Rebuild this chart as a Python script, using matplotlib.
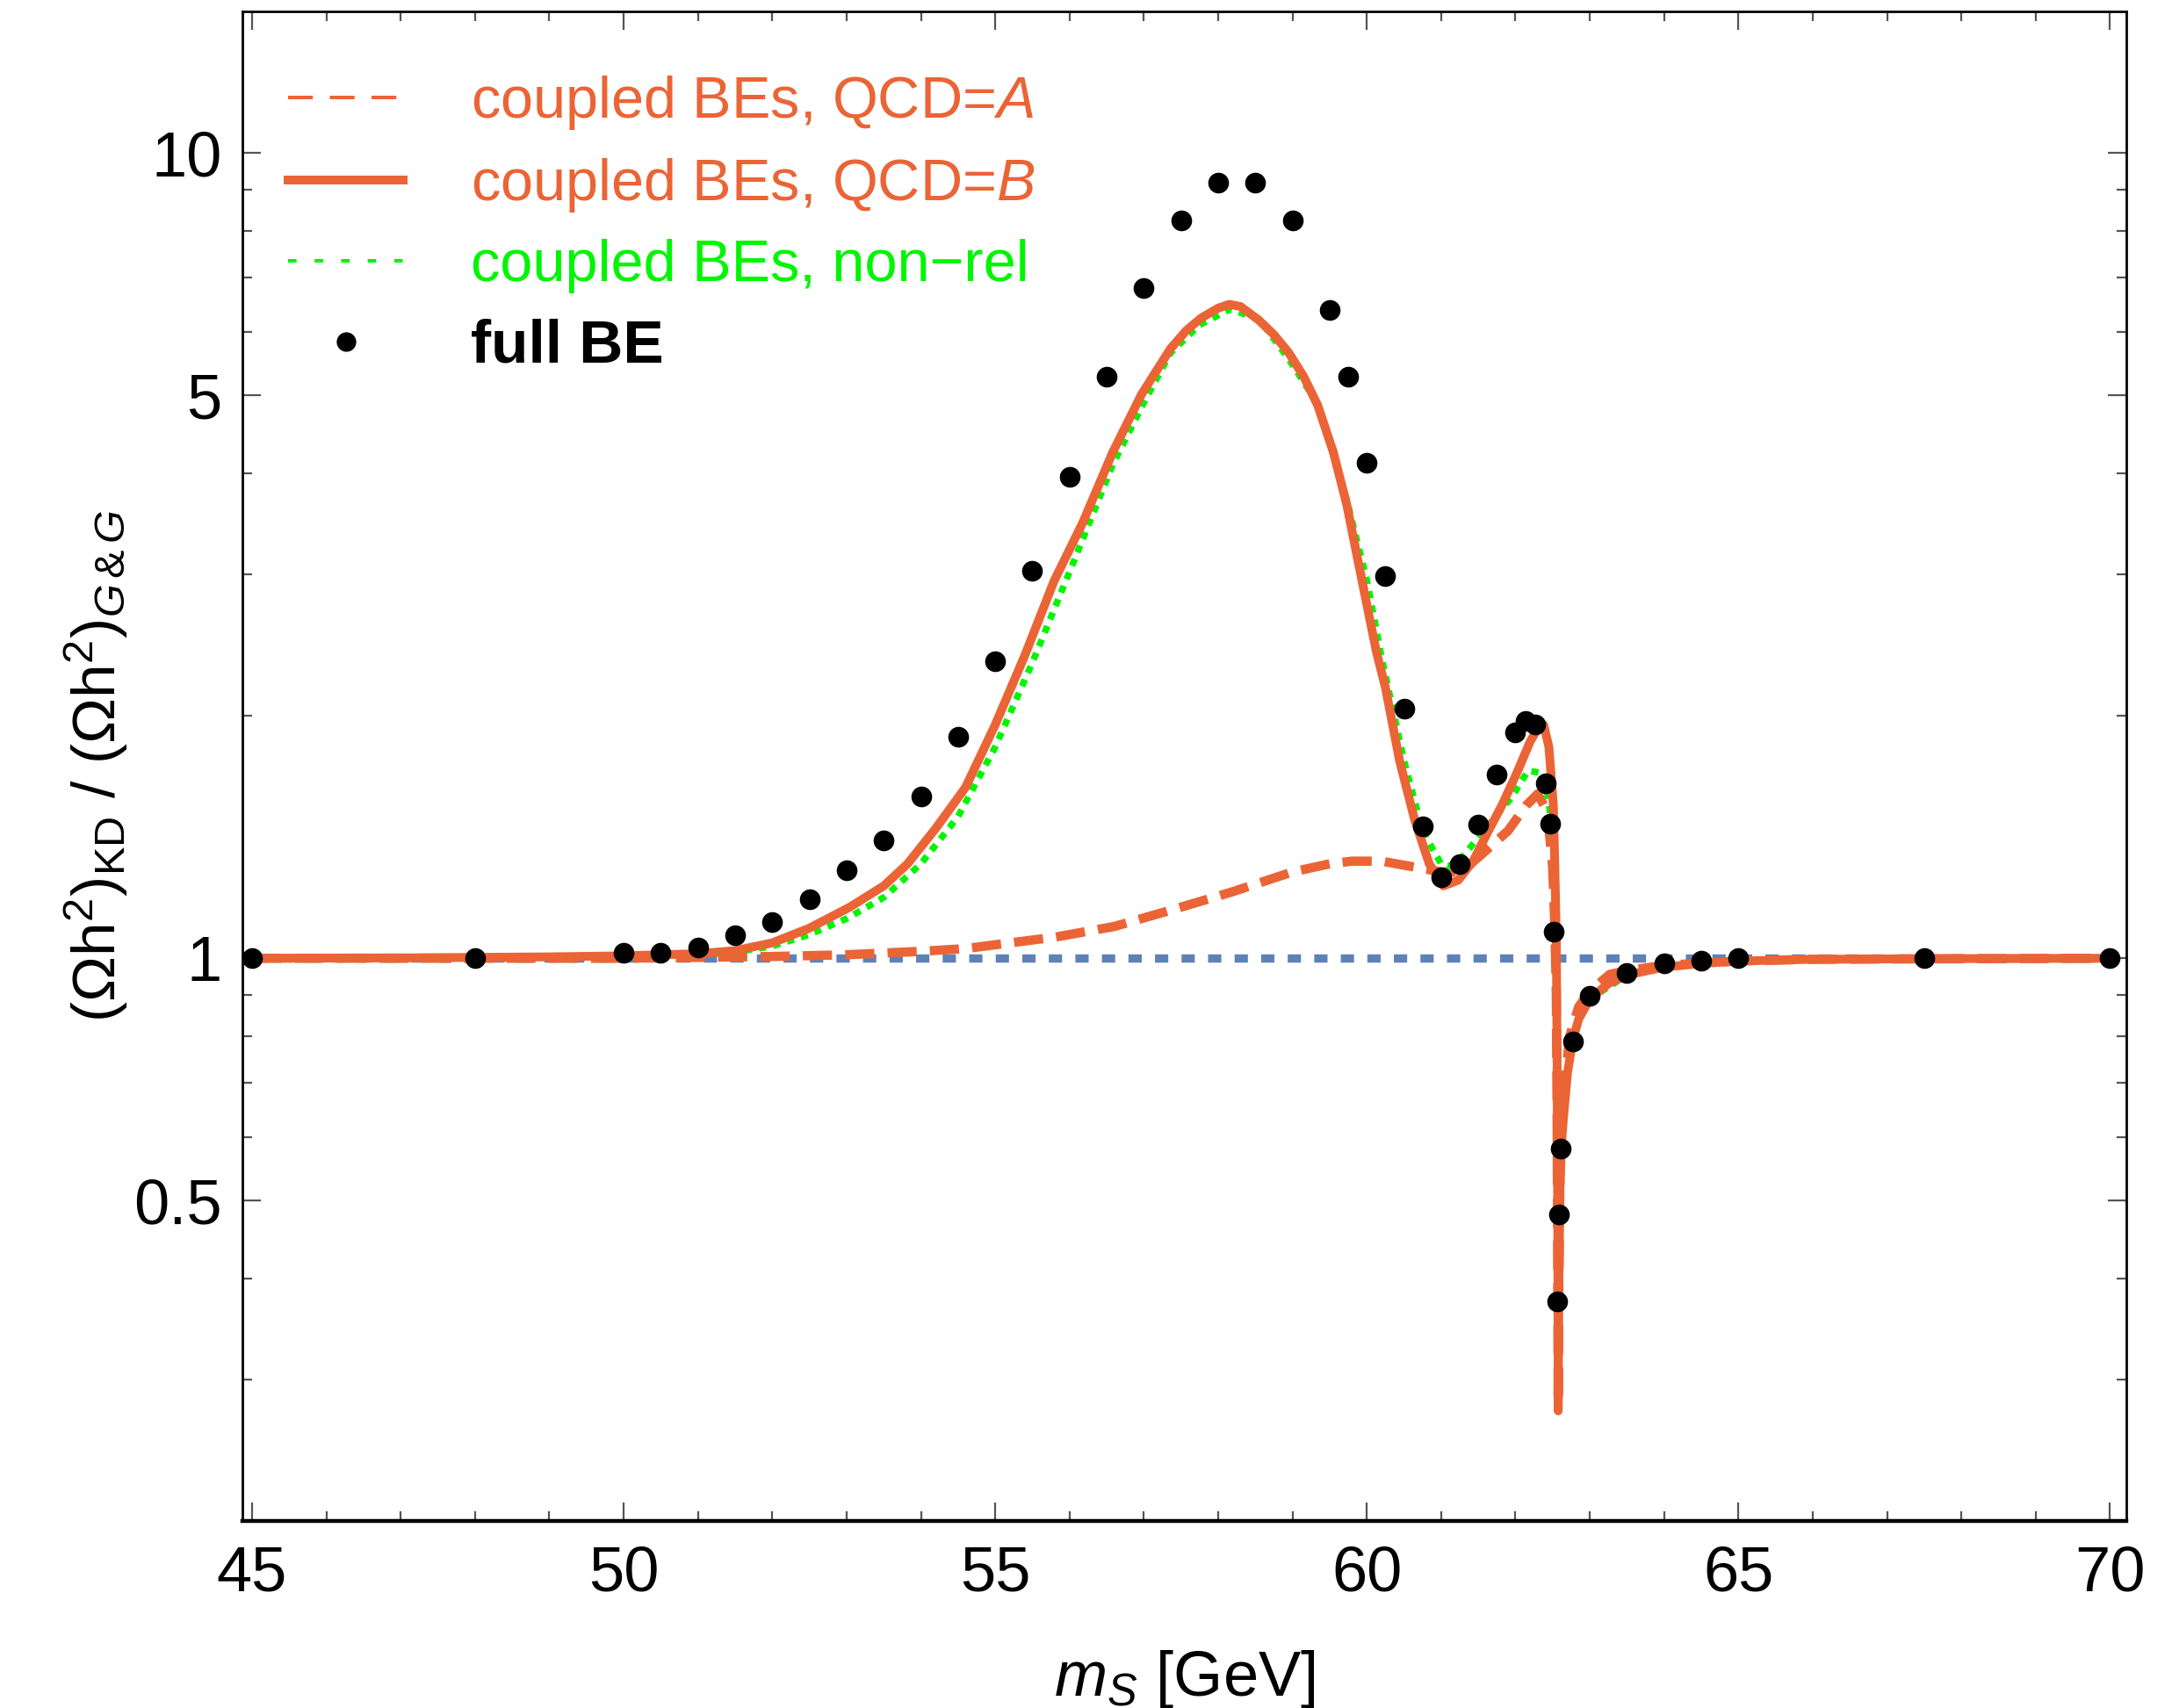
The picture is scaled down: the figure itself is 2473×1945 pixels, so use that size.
import matplotlib
matplotlib.use("Agg")
import matplotlib.pyplot as plt
from matplotlib.lines import Line2D
from matplotlib.ticker import FixedLocator, FuncFormatter, NullFormatter

plt.rcParams['font.family'] = ['Liberation Sans', 'DejaVu Sans']
plt.rcParams['mathtext.fontset'] = 'custom'
plt.rcParams['mathtext.rm'] = 'Liberation Sans'
plt.rcParams['mathtext.it'] = 'Liberation Sans:italic'
plt.rcParams['mathtext.bf'] = 'Liberation Sans:bold'

# ---------------- data ----------------
# coupled BEs, QCD=B (solid)
xB = [45.0, 47.0, 49.0, 50.0, 51.0, 51.5, 52.0, 52.5, 53.04, 53.5, 53.82, 54.2, 54.6, 55.0,
      55.4, 55.79, 56.18, 56.58, 56.97, 57.36, 57.57, 57.77, 58.0, 58.15, 58.3, 58.55, 58.75,
      58.95, 59.15, 59.34, 59.55, 59.73, 59.93, 60.13, 60.25, 60.44, 60.64, 60.84, 61.03,
      61.23, 61.43, 61.62, 61.82, 62.02, 62.2, 62.3, 62.38, 62.45, 62.51, 62.53, 62.55,
      62.56, 62.57, 62.575, 62.585, 62.6, 62.62, 62.65, 62.7, 62.77, 62.85, 63.0, 63.25,
      63.5, 64.0, 64.5, 65.0, 66.0, 68.0, 70.0]
yB = [1.000, 1.001, 1.004, 1.007, 1.013, 1.022, 1.045, 1.09, 1.157, 1.23, 1.31, 1.45, 1.63, 1.95,
      2.38, 2.94, 3.48, 4.25, 5.02, 5.72, 6.02, 6.24, 6.42, 6.49, 6.45, 6.20, 5.95,
      5.65, 5.28, 4.86, 4.25, 3.66, 2.96, 2.40, 2.17, 1.76, 1.49, 1.31, 1.23,
      1.25, 1.32, 1.43, 1.55, 1.70, 1.86, 1.93, 1.95, 1.83, 1.55, 1.30, 1.05,
      0.75, 0.45, 0.274, 0.40, 0.52, 0.59, 0.64, 0.72, 0.79, 0.84, 0.89, 0.93,
      0.953, 0.975, 0.985, 0.992, 0.997, 0.999, 1.000]

# coupled BEs, QCD=A (dashed)
xA = [45.0, 50.0, 52.0, 53.0, 54.0, 54.6, 55.2, 55.8, 56.6, 57.4, 58.2, 59.0, 59.5, 59.8,
      60.2, 60.6, 61.0, 61.2, 61.4, 61.6, 61.9, 62.15, 62.3, 62.38, 62.45, 62.5, 62.53,
      62.55, 62.56, 62.57, 62.575, 62.585, 62.6, 62.62, 62.66, 62.73, 62.85, 63.0, 63.27,
      63.5, 64.0, 65.0, 66.0, 70.0]
yA = [1.0, 1.0, 1.005, 1.01, 1.02, 1.028, 1.045, 1.062, 1.095, 1.15, 1.21, 1.28, 1.31, 1.32,
      1.32, 1.30, 1.28, 1.28, 1.31, 1.36, 1.44, 1.55, 1.60, 1.55, 1.45, 1.30, 1.10,
      0.90, 0.65, 0.40, 0.28, 0.40, 0.55, 0.63, 0.69, 0.80, 0.87, 0.91, 0.955,
      0.965, 0.98, 0.992, 0.997, 1.0]

# coupled BEs, non-rel (green dotted)
xN = [45.0, 50.0, 51.0, 51.5, 52.0, 52.5, 53.0, 53.5, 54.0, 54.5, 55.0, 55.5, 56.0, 56.58,
      57.0, 57.36, 57.75, 58.16, 58.55, 58.95, 59.34, 59.73, 60.0, 60.2, 60.5, 60.75, 61.0,
      61.1, 61.27, 61.6, 61.94, 62.17, 62.33, 62.42, 62.5, 62.53, 62.55, 62.56, 62.57,
      62.575, 62.585, 62.6, 62.62, 62.65, 62.7, 62.77, 62.85, 63.0, 63.5, 64.0, 65.0,
      66.0, 70.0]
yN = [1.0, 1.005, 1.01, 1.018, 1.035, 1.07, 1.12, 1.19, 1.31, 1.50, 1.83, 2.33, 3.02, 4.10,
      4.90, 5.65, 6.12, 6.40, 6.22, 5.55, 4.88, 3.71, 2.95, 2.36, 1.76, 1.44, 1.31,
      1.30, 1.33, 1.45, 1.58, 1.71, 1.70, 1.62, 1.45, 1.20, 1.00, 0.70, 0.45,
      0.30, 0.40, 0.52, 0.59, 0.64, 0.72, 0.79, 0.84, 0.89, 0.953, 0.975, 0.992,
      0.997, 1.0]

# full BE (points)
xF = [45.0, 48.0, 50.0, 50.5, 51.0, 51.5, 52.0, 52.5, 53.0, 53.5, 54.0, 54.5, 55.0, 55.5,
      56.0, 56.5, 57.0, 57.5, 58.0, 58.5, 59.0, 59.5, 59.75, 60.0, 60.25, 60.5, 60.75,
      61.0, 61.25, 61.5, 61.75, 62.0, 62.14, 62.27, 62.41, 62.47, 62.51, 62.56, 62.58,
      62.61, 62.77, 63.0, 63.5, 64.0, 64.5, 65.0, 67.5, 70.0]
yF = [1.0, 1.0, 1.015, 1.015, 1.03, 1.067, 1.11, 1.184, 1.286, 1.40, 1.59, 1.886, 2.34, 3.03,
      3.96, 5.27, 6.80, 8.25, 9.2, 9.2, 8.25, 6.38, 5.28, 4.12, 2.98, 2.04, 1.46,
      1.26, 1.31, 1.466, 1.69, 1.91, 1.97, 1.95, 1.65, 1.47, 1.08, 0.375, 0.48,
      0.58, 0.789, 0.897, 0.958, 0.985, 0.992, 1.0, 1.0, 1.0]

# reference (G&G) line
xRef = [45.0, 70.0]
yRef = [1.0, 1.0]

labels = ['coupled BEs, QCD=$A$', 'coupled BEs, QCD=$B$', 'coupled BEs, non\u2212rel', 'full BE']
yticks_major = [0.5, 1, 5, 10]
yticks_minor = [0.3, 0.4, 0.6, 0.7, 0.8, 0.9, 2, 3, 4, 6, 7, 8, 9]

# ---------------- style ----------------
ORANGE = '#EB6436'
GREEN = '#00F500'
BLUE = '#5F82B6'

fig = plt.figure(figsize=(2473 / 200, 1945 / 200), dpi=200)
ax = fig.add_axes([276 / 2473, 1 - 1732 / 1945, (2421 - 276) / 2473, (1732 - 13) / 1945])

ax.plot(xRef, yRef, color=BLUE, lw=3.4, dashes=(1.6, 1.6), solid_capstyle='butt',
        dash_capstyle='butt', zorder=1)
ax.plot(xA, yA, color=ORANGE, lw=3.8, dashes=(3.15, 1.42), dash_capstyle='butt', zorder=2)
ax.plot(xN, yN, color=GREEN, lw=2.7, dashes=(1.1, 1.1), dash_capstyle='butt', zorder=3)
ax.plot(xB, yB, color=ORANGE, lw=3.6, zorder=4, solid_joinstyle='round')
ax.plot(xF, yF, 'o', color='black', ms=8.5, mew=0, zorder=5, clip_on=False)

ax.set_yscale('log')
ax.set_xlim(44.87, 70.22)
ax.set_ylim(0.2, 15)

ax.xaxis.set_major_locator(FixedLocator([45, 50, 55, 60, 65, 70]))
ax.xaxis.set_minor_locator(FixedLocator([x for x in range(45, 71) if x % 5 != 0]))
ax.yaxis.set_major_locator(FixedLocator(yticks_major))
ax.yaxis.set_minor_locator(FixedLocator(yticks_minor))
ax.yaxis.set_major_formatter(FuncFormatter(lambda v, p: ('%g' % v)))
ax.yaxis.set_minor_formatter(NullFormatter())

ax.tick_params(which='both', direction='in', top=True, right=True, width=0.8, color='#555555')
ax.tick_params(which='major', length=7.5, labelsize=26)
ax.tick_params(which='minor', length=3.8)
ax.tick_params(axis='x', which='major', pad=10)
ax.tick_params(axis='y', which='major', pad=8.5)
for s in ax.spines.values():
    s.set_linewidth(1.0)
ax.spines['bottom'].set_linewidth(1.6)

ax.set_xlabel('$m_S$ [GeV]', fontsize=26, labelpad=18)
ax.set_ylabel(r'$(\mathrm{\Omega h}^2)_\mathrm{KD}\ /\ (\mathrm{\Omega h}^2)_{G\,&\,G}$',
              fontsize=25)
ax.yaxis.set_label_coords(-0.0597, 0.5)

handles = [
    Line2D([], [], color=ORANGE, lw=1.45, dashes=(7, 4.8)),
    Line2D([], [], color=ORANGE, lw=3.6),
    Line2D([], [], color=GREEN, lw=1.45, dashes=(2.4, 5.1)),
    Line2D([], [], color='black', marker='o', ls='none', ms=8, mew=0),
]
leg = ax.legend(handles, labels, loc='upper left', bbox_to_anchor=(0.0118, 0.974),
                frameon=False, fontsize=24, handlelength=1.97, handletextpad=1.15,
                labelspacing=0.42, borderaxespad=0.0,
                labelcolor=[ORANGE, ORANGE, GREEN, 'black'])
leg.get_texts()[3].set_fontweight('bold')
leg.get_texts()[3].set_fontsize(25)

fig.savefig('out.png', dpi=200)
